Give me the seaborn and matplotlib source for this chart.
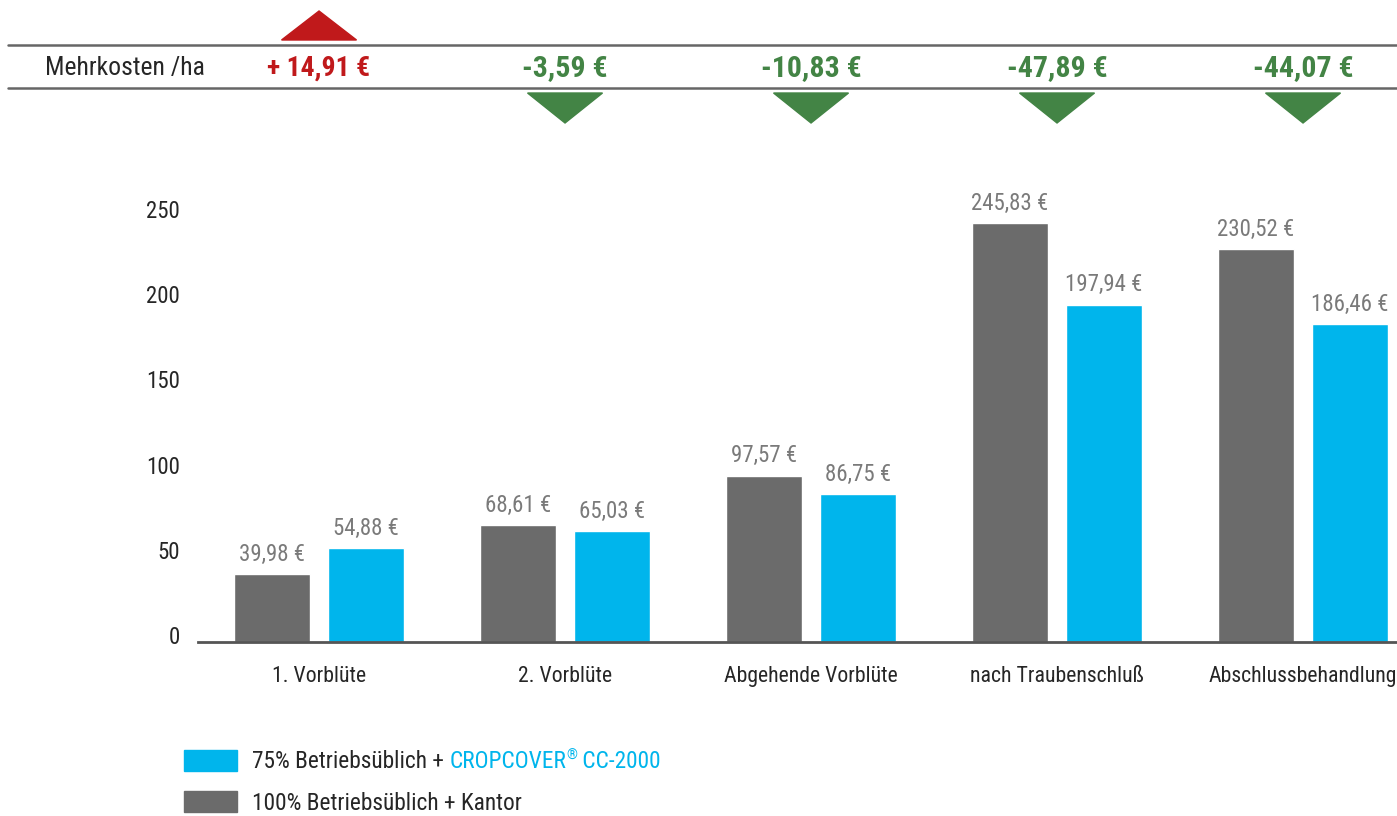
import matplotlib
matplotlib.use("Agg")
import matplotlib.pyplot as plt
import matplotlib.transforms as mtransforms
from matplotlib.patches import Polygon, Rectangle
import pandas as pd
import seaborn as sns

# data
categories = ["1. Vorblüte", "2. Vorblüte", "Abgehende Vorblüte", "nach Traubenschluß", "Abschlussbehandlung"]
kantor = [39.98, 68.61, 97.57, 245.83, 230.52]
cropcover = [54.88, 65.03, 86.75, 197.94, 186.46]
mehrkosten = [14.91, -3.59, -10.83, -47.89, -44.07]
series = ["100% Betriebsüblich + Kantor", "75% Betriebsüblich + CROPCOVER® CC-2000"]

GREY = "#6b6b6b"
BLUE = "#00b5ec"
RED = "#c0191b"
GREEN = "#438445"
LABEL = "#7a7a7a"
DARK = "#262626"

def fmt(v):
    return f"{v:.2f} €".replace(".", ",")

df = pd.DataFrame({
    "Behandlung": categories * 2,
    "Kosten": kantor + cropcover,
    "Variante": [series[0]] * len(categories) + [series[1]] * len(categories),
})

sns.set_theme(style="white")
plt.rcParams["font.family"] = ["Liberation Sans Narrow", "Roboto Condensed", "DejaVu Sans"]

fig = plt.figure(figsize=(13.97, 8.16), dpi=100)
ax = fig.add_axes([198 / 1397, 174 / 816, 1 - 198 / 1397, 462 / 816])

sns.barplot(data=df, x="Behandlung", y="Kosten", hue="Variante",
            palette=[GREY, BLUE], width=0.764, gap=0.19, saturation=1,
            legend=False, ax=ax)

for cont, vals in zip(ax.containers, [kantor, cropcover]):
    ax.bar_label(cont, labels=[fmt(v) for v in vals], padding=6,
                 fontsize=16.5, color=LABEL)

ax.set_xlim(-0.492, 4.382)
ax.set_ylim(0, 271)
ax.set_yticks([0, 50, 100, 150, 200, 250])
ax.set_xlabel("")
ax.set_ylabel("")
sns.despine(ax=ax, left=True, top=True, right=True)
ax.spines["bottom"].set_color("#555555")
ax.spines["bottom"].set_linewidth(2)
ax.tick_params(axis="x", length=0, pad=17, labelsize=15.7, labelcolor=DARK)
ax.tick_params(axis="y", length=0, pad=13, labelsize=16.5, labelcolor=DARK)
# tick labels sit a little above their gridline in the reference
shift = mtransforms.ScaledTranslation(0, 7 / 100, fig.dpi_scale_trans)
for lbl in ax.get_yticklabels():
    lbl.set_transform(lbl.get_transform() + shift)

# top row: Mehrkosten /ha
for yy in [45, 88]:
    fig.add_artist(plt.Line2D([8 / 1397, 1], [1 - yy / 816] * 2,
                              color="#666666", lw=1.8, transform=fig.transFigure))
fig.text(45 / 1397, 1 - 68 / 816, "Mehrkosten /ha", fontsize=18.5, color=DARK,
         ha="left", va="center")

blend = mtransforms.blended_transform_factory(ax.transData, fig.transFigure)
half = 37.5 / 246
for i, v in enumerate(mehrkosten):
    if v > 0:
        txt = "+ " + fmt(v)
        col = RED
        size = 20
        tri = [(i - half, 1 - 40 / 816), (i + half, 1 - 40 / 816), (i, 1 - 11 / 816)]
    else:
        txt = "-" + fmt(abs(v))
        col = GREEN
        size = 21.5
        tri = [(i - half, 1 - 93 / 816), (i + half, 1 - 93 / 816), (i, 1 - 123 / 816)]
    ax.text(i, 1 - 68 / 816, txt, transform=blend, ha="center", va="center",
            fontsize=size, fontweight="bold", color=col, clip_on=False)
    ax.add_patch(Polygon(tri, closed=True, transform=blend, color=col, clip_on=False))

# legend drawn by hand (two coloured parts in the first entry)
fig.add_artist(Rectangle((184 / 1397, 45 / 816), 53 / 1397, 21 / 816,
                         color=BLUE, transform=fig.transFigure))
fig.add_artist(Rectangle((184 / 1397, 4 / 816), 53 / 1397, 21 / 816,
                         color=GREY, transform=fig.transFigure))
fig.text(252 / 1397, 1 - 803 / 816, "100% Betriebsüblich + Kantor", fontsize=16.8,
         color=DARK, ha="left", va="center")

fig.canvas.draw()
inv = fig.transFigure.inverted()
x = 252 / 1397
parts = [("75% Betriebsüblich + ", DARK, 16.8, 0),
         ("CROPCOVER", BLUE, 16.8, 0),
         ("®", BLUE, 10, 6 / 816),
         (" CC-2000", BLUE, 16.8, 0)]
for s, col, size, dy in parts:
    t = fig.text(x, 1 - 762 / 816 + dy, s, fontsize=size, color=col,
                 ha="left", va="center")
    x = t.get_window_extent().transformed(inv).x1

fig.savefig("out.png", dpi=100)
